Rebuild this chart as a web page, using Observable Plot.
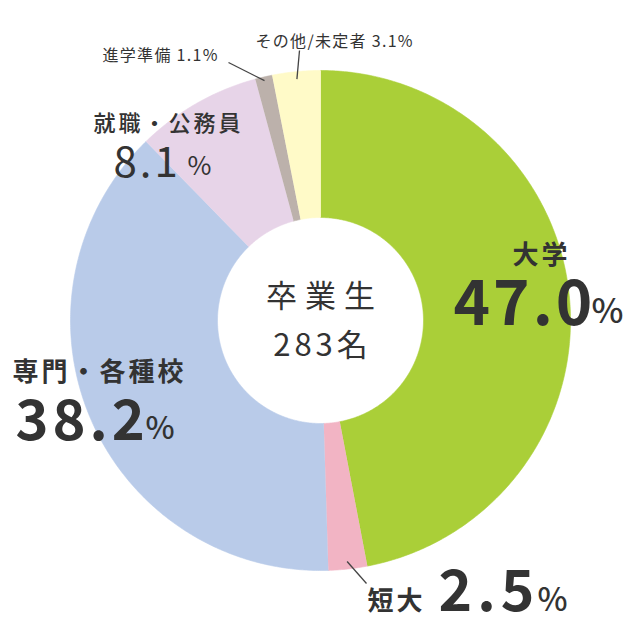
<!DOCTYPE html>
<html><head><meta charset="utf-8">
<script src="https://cdn.jsdelivr.net/npm/d3@7"></script>
<script src="https://cdn.jsdelivr.net/npm/@observablehq/plot@0.6"></script>
<style>body{margin:0;background:#fff;} svg{display:block;}</style>
</head><body><div id="chart"></div>
<script>
// ---- data ----
const categories = ["大学", "短大", "専門・各種校", "就職・公務員", "進学準備", "その他/未定者"];
const shares = [47.0, 2.5, 38.2, 8.1, 1.1, 3.1];
const shareLabels = ["47.0", "2.5", "38.2", "8.1", "1.1", "3.1"];
const colors = ["#aacf38", "#f2b4c4", "#b9cbe9", "#e7d4e8", "#bcb1ab", "#fffac8"];
const centerTitle = "卒業生";
const centerCount = "283名";

// ---- geometry (donut built from shares) ----
const innerRatio = 0.412;
const total = d3.sum(shares);
let acc = 0;
const slices = categories.map((c, i) => {
  const a0 = acc / total * 2 * Math.PI; acc += shares[i];
  const a1 = acc / total * 2 * Math.PI;
  return {c, a0, a1, mid: (a0 + a1) / 2};
});
const pts = [];
for (const s of slices) {
  const n = Math.max(4, Math.ceil((s.a1 - s.a0) / (Math.PI / 360)));
  for (let k = 0; k <= n; k++) { const a = s.a0 + (s.a1 - s.a0) * k / n; pts.push({c: s.c, x: Math.sin(a), y: Math.cos(a)}); }
  for (let k = n; k >= 0; k--) { const a = s.a0 + (s.a1 - s.a0) * k / n; pts.push({c: s.c, x: innerRatio * Math.sin(a), y: innerRatio * Math.cos(a)}); }
}

// layout helpers: pixel offsets -> data units (radius = 1)
const CX = 320, CY = 320, R = 250;
const ux = p => (p - CX) / R, uy = p => (CY - p) / R;
const polar = (a, r) => ({x: r * Math.sin(a), y: r * Math.cos(a)});

const font = "'Noto Sans CJK JP', 'Noto Sans', sans-serif";
const ink = "#333333";
function label(txt, px, py, o) {
  return Plot.text([txt], {
    x: () => ux(px), y: () => uy(py), text: d => d,
    fontSize: o.size, fontWeight: o.weight || 400, textAnchor: o.anchor || "start",
    lineAnchor: "middle", fill: ink, fontFamily: font,
    ariaDescription: "ls:" + (o.ls || 0)
  });
}
function leader(i, r0, px2, py2) {
  const p = polar(slices[i].mid, r0);
  return Plot.link([0], {x1: () => p.x, y1: () => p.y, x2: () => ux(px2), y2: () => uy(py2), stroke: "#444", strokeWidth: 1.3});
}

const chart = Plot.plot({
  width: 640, height: 617, margin: 0,
  x: {domain: [-1, 1], range: [CX - R, CX + R], axis: null},
  y: {domain: [-1, 1], range: [CY + R, CY - R], axis: null},
  color: {domain: categories, range: colors},
  style: {fontFamily: font, background: "#fff"},
  marks: [
    Plot.line(pts, {x: "x", y: "y", z: "c", fill: "c", stroke: "c", strokeWidth: 0.6}),
    leader(5, 0.97, 299, 50),
    leader(4, 0.985, 228, 62),
    leader(1, 0.97, 366, 583),
    // outside / in-slice labels
    label(`${categories[5]} ${shareLabels[5]}%`, 255, 41, {size: 16, ls: 1.3}),
    label(`${categories[4]} ${shareLabels[4]}%`, 102, 55, {size: 16, ls: 1.3}),
    label(categories[3], 93, 123, {size: 22, weight: 500, ls: 3}),
    label(shareLabels[3], 113, 163, {size: 42, weight: 400, ls: 3}),
    label("%", 187, 166, {size: 26, weight: 400}),
    label(categories[2], 12, 372, {size: 26, weight: 700, ls: 3}),
    label(shareLabels[2], 15, 422, {size: 56, weight: 700, ls: 4}),
    label("%", 145, 429, {size: 31, weight: 500}),
    label(categories[0], 512, 255, {size: 26, weight: 700, ls: 3}),
    label(shareLabels[0], 453, 305, {size: 62, weight: 700, ls: 3}),
    label("%", 591, 312, {size: 34, weight: 500}),
    label(categories[1], 367, 601, {size: 26, weight: 700, ls: 3}),
    label(shareLabels[1], 438, 592, {size: 57, weight: 700, ls: 5}),
    label("%", 537, 600, {size: 32, weight: 500}),
    label(centerTitle, 324, 297, {size: 31, weight: 400, anchor: "middle", ls: 8}),
    label(centerCount, 322, 346, {size: 31, weight: 400, anchor: "middle", ls: 4})
  ]
});
d3.select(chart).selectAll("g[aria-description^='ls:']").each(function () {
  const v = +this.getAttribute("aria-description").slice(3);
  if (v) this.setAttribute("letter-spacing", v + "px");
});
document.getElementById("chart").append(chart);
</script>
</body></html>
